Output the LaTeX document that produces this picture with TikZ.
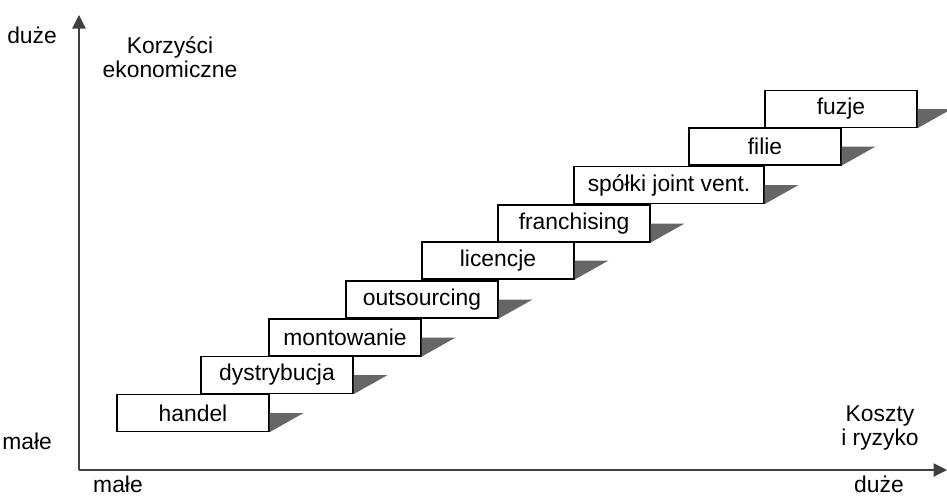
\documentclass[tikz,border=0pt]{standalone}
\usepackage{fontspec}
\setmainfont{Liberation Sans}
\usetikzlibrary{arrows.meta}

\begin{document}
\begin{tikzpicture}[x=0.02cm,y=-0.02cm,font=\fontsize{13}{13.5}\selectfont]
        \useasboundingbox (0,0) rectangle (947,495);
        \tikzset{
          stepbox/.style={draw,line width=0.7pt,fill=white,minimum height=0.74cm,inner sep=0pt},
          shadow/.style={fill=black!60},
          axis/.style={draw=black!75,line width=0.6pt,-{Triangle[length=0.27cm,width=0.27cm]}}
        }

          % axes
          \coordinate (o) at (79,470);
          \coordinate (ytop) at (79,15);
          \coordinate (xend) at (947,470);
          \draw[axis] (o) -- (ytop);
          \draw[axis] (o) -- (xend);

          % steps
          \foreach \name/\x/\y/\w/\txt in {handel/193/413/3.04/handel,
              dystr/277/375/3.04/dystrybucja,
              mont/345/337.5/3.04/montowanie,
              outs/422/299.5/3.04/outsourcing,
              lic/498/260.5/3.04/licencje,
              fran/574/223.5/3.04/franchising,
              spolki/669/185/3.8/spółki joint vent.,
              filie/765/146.5/3.04/filie,
              fuzje/841/109/3.04/fuzje}{
            \node[stepbox,minimum width=\w cm] (\name) at (\x,\y) {\txt};
            \fill[shadow] (\name.east) -- ++(34,0) -- (\name.south east) -- cycle;
          }

          \node[anchor=east] (ybig) at (63,35) {duże};
          \node[align=center] (ylab) at (170,57) {Korzyści\\ekonomiczne};
          \node[anchor=east] (ysmall) at (58,441) {małe};

          \node[anchor=base] (xsmall) at (118,492) {małe};
          \node[anchor=base] (xbig) at (879,492) {duże};
          \node[align=center] (xlab) at (880,428) {Koszty\\i ryzyko};
        \end{tikzpicture}
\end{document}
